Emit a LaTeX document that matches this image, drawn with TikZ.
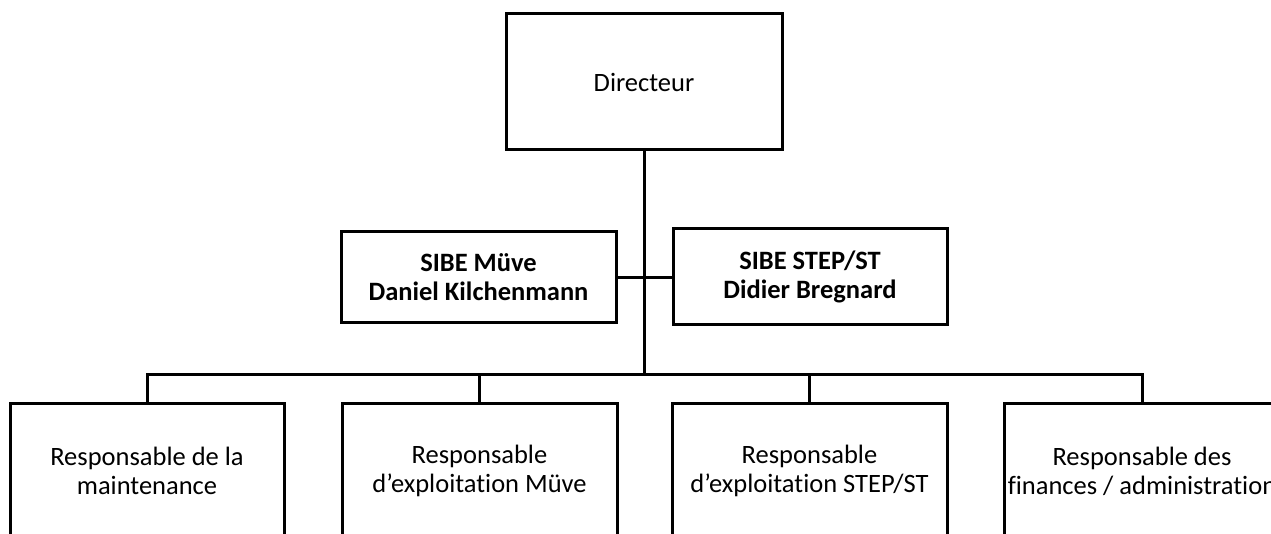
\documentclass[tikz,border=0pt]{standalone}
\usepackage{fontspec}
\setmainfont{Carlito}[Ligatures={NoCommon}]
\begin{document}
\begin{tikzpicture}[x=1pt,y=-1pt,
  box/.style={draw=black,line width=3pt,fill=white,inner sep=0pt,align=center,
    font=\fontsize{26.5}{29}\selectfont},
  boldbox/.style={box,font=\fontsize{26.5}{29}\selectfont\bfseries},
  conn/.style={draw=black,line width=3pt}]
\useasboundingbox (0,0) rectangle (1271,534);
\fill[white] (0,0) rectangle (1271,534);
\clip (0,0) rectangle (1271,534);
\node[box,minimum width=276pt,minimum height=136pt] (dir) at (644,82) {Directeur};
\node[boldbox,minimum width=275pt,minimum height=91pt] (sl) at (478.5,277.5) {SIBE Müve\\Daniel Kilchenmann};
\node[boldbox,minimum width=274pt,minimum height=96pt] (sr) at (810,277) {SIBE STEP/ST\\Didier Bregnard};
\node[box,minimum width=274pt,minimum height=136pt] (b1) at (147,471) {Responsable de la\\maintenance};
\node[box,minimum width=275pt,minimum height=136pt] (b2) at (479.5,471) {Responsable\\d’exploitation Müve};
\node[box,minimum width=275pt,minimum height=136pt] (b3) at (809.5,471) {Responsable\\d’exploitation STEP/ST};
\node[box,minimum width=275pt,minimum height=136pt] (b4) at (1142,471) {Responsable des\\finances / administration};
\coordinate (j) at (644,374);
\draw[conn] (dir.south) -- (j);
\draw[conn] (sl.east) -- (sl.east -| sr.west);
\draw[conn] (b1.north) |- (j) -| (b4.north);
\draw[conn] (b2.north) |- (j);
\draw[conn] (b3.north) |- (j);
\end{tikzpicture}
\end{document}
